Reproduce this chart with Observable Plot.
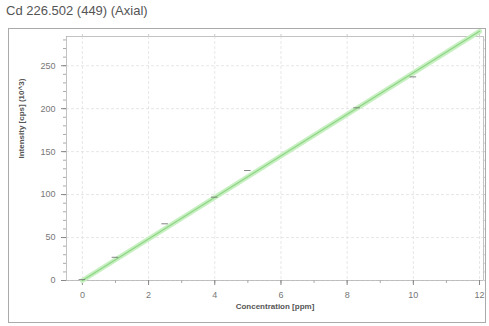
<!DOCTYPE html>
<html><head><meta charset="utf-8">
<script src="https://cdn.jsdelivr.net/npm/d3@7"></script>
<script src="https://cdn.jsdelivr.net/npm/@observablehq/plot@0.6"></script>
<style>
body{margin:0;background:#fff;font-family:"Liberation Sans",Arial,sans-serif;}
#title{position:absolute;left:6px;top:3px;font-size:13px;color:#555;}
#box{position:absolute;left:8px;top:28px;width:476px;height:293px;border:1px solid #aaa;}
</style></head><body>
<div id="title">Cd 226.502 (449) (Axial)</div>
<div id="box"></div>
<script>
const conc = [0, 1, 2.5, 4, 5, 8.3, 10];
const intensity = [1, 27, 66, 97, 128, 201, 237];
const fitX = [0, 12];
const fitY = [0, 290];
const xTicks = [0, 2, 4, 6, 8, 10, 12];
const yTicks = [0, 50, 100, 150, 200, 250];
const xMinor = d3.range(0, 12.01, 1);
const yMinor = d3.range(0, 281, 10);

const pts = conc.map((c, i) => ({x: c, y: intensity[i]}));
const fit = fitX.map((c, i) => ({x: c, y: fitY[i]}));

const chart = Plot.plot({
  width: 476, height: 293,
  marginLeft: 57, marginRight: 2, marginTop: 7, marginBottom: 42,
  style: {fontFamily: "Liberation Sans, Arial, sans-serif", fontSize: "8px", color: "#666", background: "transparent"},
  x: {type: "linear", domain: [-0.48, 12.12], label: null},
  y: {type: "linear", domain: [0, 284], label: null},
  marks: [
    Plot.ruleX(xTicks, {x: d => d, stroke: "#ddd", strokeDasharray: "3,2", strokeWidth: 0.7}),
    Plot.ruleY(yTicks, {y: d => d, stroke: "#ddd", strokeDasharray: "3,2", strokeWidth: 0.7}),
    Plot.frame({stroke: "#aaa", strokeWidth: 0.7}),
    Plot.axisX(xMinor, {tickSize: 3, text: null, stroke: "#aaa"}),
    Plot.axisX(xTicks, {tickSize: 5, tickPadding: 6, stroke: "#888", fill: "#777", fontSize: 9}),
    Plot.axisY(yMinor, {tickSize: 3, text: null, stroke: "#aaa"}),
    Plot.axisY(yTicks, {tickSize: 5, tickPadding: 6, stroke: "#888", fill: "#777", fontSize: 9}),
    Plot.axisY(yMinor, {anchor: "right", tickSize: 3, text: null, stroke: "#ccc"}),
    Plot.axisX(xTicks, {anchor: "top", tickSize: 3, text: null, stroke: "#ccc"}),
    Plot.line(fit, {x: "x", y: "y", stroke: "#c6f0c0", strokeWidth: 5}),
    Plot.line(fit, {x: "x", y: "y", stroke: "#8fd486", strokeWidth: 1.2}),
    Plot.ruleY(pts, {x1: d => d.x - 0.1, x2: d => d.x + 0.1, y: "y", stroke: "#777", strokeWidth: 0.9}),
    Plot.text(["Concentration [ppm]"], {frameAnchor: "bottom", dy: 28, fontSize: 8, fontWeight: "bold", fill: "#555"}),
    Plot.text(["Intensity [cps] (10^3)"], {frameAnchor: "left", dx: -45, rotate: -90, fontSize: 8, fontWeight: "bold", fill: "#555"})
  ]
});
document.getElementById("box").appendChild(chart);
</script>
</body></html>
